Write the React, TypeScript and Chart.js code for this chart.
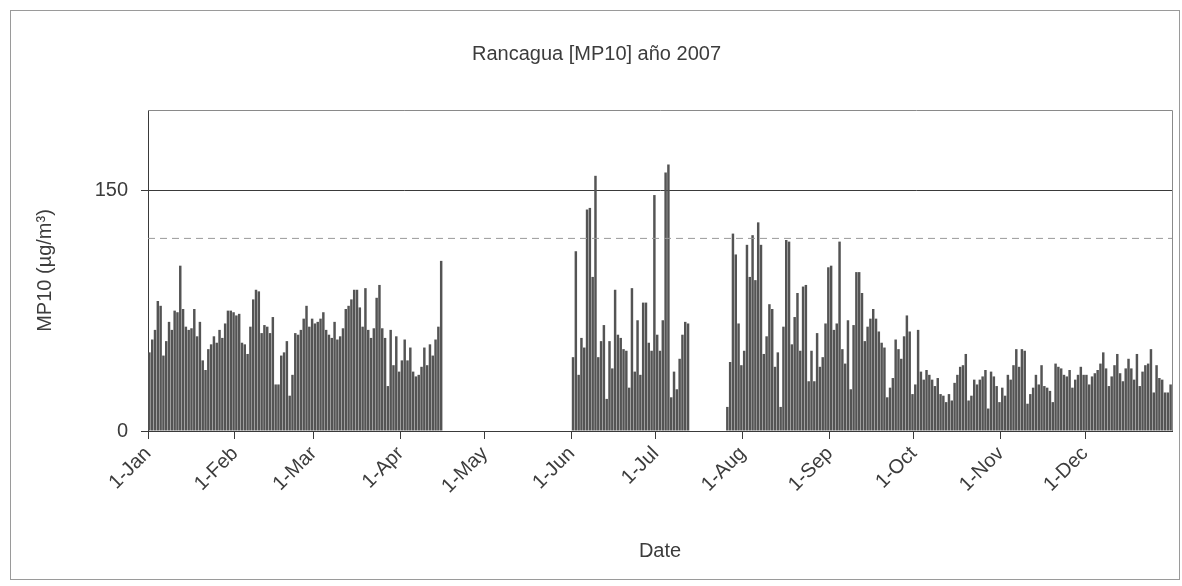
import React, { useEffect, useRef } from "react";
import { Chart, registerables } from "chart.js";

Chart.register(...registerables);

const TITLE = "Rancagua [MP10] año 2007";
const Y_TITLE = "MP10 (µg/m³)";
const X_TITLE = "Date";

// tick positions (day of year, 0 = 1-Jan) and labels
const monthTickDays = [0, 31, 59, 90, 120, 151, 181, 212, 243, 273, 304, 334];
const monthTickLabels = ["1-Jan", "1-Feb", "1-Mar", "1-Apr", "1-May", "1-Jun", "1-Jul", "1-Aug", "1-Sep", "1-Oct", "1-Nov", "1-Dec"];
const DAYS_IN_YEAR = 365;

const yTickValues = [0, 150];
const Y_MAX = 200;
const NORM_DASHED = 120;

// daily MP10 values, segment by segment (first day index of each segment)
const janAprStart = 0;
const janAprValues = [
  49, 57, 63, 81, 78, 47, 56, 68, 63, 75, 74, 103, 76, 65, 63, 64, 76, 59, 68, 44,
  38, 51, 54, 59, 55, 63, 58, 67, 75, 75, 74, 72, 73, 55, 54, 48, 65, 82, 88, 87,
  61, 66, 65, 61, 71, 29, 29, 47, 49, 56, 22, 35, 61,
  60, 63, 70, 78, 65, 70, 67, 68, 70, 74, 63, 60, 58, 68, 57, 59, 64, 76, 78, 82,
  88, 88, 77, 65, 89, 63, 58, 64, 83, 91, 64, 58, 28, 63, 41, 59, 37, 44, 57, 44,
  52, 37, 34, 35, 40, 52, 41, 54, 47, 57, 65, 106,
];

const junJulStart = 151;
const junJulValues = [
  46, 112, 35, 58, 52, 138, 139, 96, 159, 46, 56, 66, 20, 56, 39, 88, 60, 58, 51, 50,
  27, 89, 37, 69, 35, 80, 80, 55, 50, 147, 60, 50, 69, 161, 166, 21, 37, 26, 45, 60,
  68, 67,
];

const julSepStart = 206;
const julSepValues = [
  15, 43, 123, 110, 67, 41, 50, 116, 96, 122, 94, 130, 116, 48, 59, 79, 76, 40, 49, 15,
  65, 119, 118, 54, 71, 86, 50, 90, 91, 31, 50, 31, 61, 40, 46, 67, 102, 103, 63, 67,
  118, 51, 42, 69, 26, 66, 99, 99, 86, 56, 65, 70, 76, 70,
];

const sepNovStart = 260;
const sepNovValues = [
  62, 55, 52, 21, 27, 33, 57, 51, 45, 59, 72, 62, 23, 29, 63, 37, 32, 38, 35, 32,
  28, 33, 23, 22, 18, 23, 19, 30, 35, 40, 41, 48, 19, 22, 32, 29, 32, 34, 38, 14,
  37, 34, 28, 18, 27, 22, 35, 32, 41, 51, 40,
];

const novDecStart = 311;
const novDecValues = [
  51, 50, 17, 23, 27, 35, 29, 41, 28, 27, 25, 18, 42, 40, 39, 35, 34, 38, 27, 32,
  35, 40, 35, 35, 29, 34, 36, 38, 42, 49, 39, 28, 34, 41, 48, 36, 31, 39, 45, 39,
  32, 48, 28, 37, 41, 42, 51, 24, 41, 33, 32, 24, 24, 29,
];

const segments: [number, number[]][] = [
  [janAprStart, janAprValues],
  [junJulStart, junJulValues],
  [julSepStart, julSepValues],
  [sepNovStart, sepNovValues],
  [novDecStart, novDecValues],
];

const FONT = "'Liberation Sans', Arial, sans-serif";
const FONT_SIZE = 20;
const TEXT = "#3c3c3c";
const AXIS = "#3a3a3a";

const frame = {
  id: "plotFrame",
  afterDraw(chart: any) {
    const { ctx, chartArea } = chart;
    const { left, right, top, bottom } = chartArea;
    ctx.save();
    ctx.strokeStyle = "#8a8a8a";
    ctx.lineWidth = 1;
    ctx.beginPath();
    ctx.moveTo(left, Math.round(top) + 0.5);
    ctx.lineTo(Math.round(right) + 0.5, Math.round(top) + 0.5);
    ctx.lineTo(Math.round(right) + 0.5, bottom);
    ctx.stroke();
    ctx.restore();
  },
};

export default function App() {
  const ref = useRef<HTMLCanvasElement | null>(null);

  useEffect(() => {
    if (!ref.current) return;
    const points: { x: number; y: number }[] = [];
    segments.forEach(([start, vals]) => {
      vals.forEach((v, i) => points.push({ x: start + i + 0.5, y: v }));
    });

    const chart = new Chart(ref.current, {
      type: "bar",
      data: {
        datasets: [
          {
            type: "bar",
            data: points as any,
            backgroundColor: "#545454",
            borderWidth: 0,
            barPercentage: 0.88,
            categoryPercentage: 1,
            order: 2,
          } as any,
          {
            type: "line",
            data: [
              { x: 0, y: NORM_DASHED },
              { x: DAYS_IN_YEAR, y: NORM_DASHED },
            ] as any,
            borderColor: "#9a9a9a",
            borderWidth: 1,
            borderDash: [7, 5],
            pointRadius: 0,
            order: 1,
          } as any,
        ],
      },
      options: {
        animation: false,
        responsive: false,
        devicePixelRatio: 1,
        layout: { padding: { left: 10, right: 7, top: 10, bottom: 10 } },
        plugins: {
          legend: { display: false },
          tooltip: { enabled: false },
          title: {
            display: true,
            text: TITLE,
            color: TEXT,
            font: { family: FONT, size: FONT_SIZE, weight: "normal" },
            padding: { top: 21, bottom: 44 },
          },
        },
        scales: {
          x: {
            type: "linear",
            offset: false,
            min: 0,
            max: DAYS_IN_YEAR,
            afterBuildTicks: (s: any) => {
              s.ticks = monthTickDays.map((v) => ({ value: v }));
            },
            afterFit: (s: any) => {
              s.height = 138;
            },
            ticks: {
              autoSkip: false,
              minRotation: 45,
              maxRotation: 45,
              padding: 3,
              color: TEXT,
              font: { family: FONT, size: FONT_SIZE },
              callback: (v: any) => {
                const i = monthTickDays.indexOf(Number(v));
                return i >= 0 ? monthTickLabels[i] : "";
              },
            },
            grid: { offset: false, drawOnChartArea: false, drawTicks: true, tickLength: 8, color: AXIS },
            border: { color: AXIS },
            title: {
              display: true,
              text: X_TITLE,
              color: TEXT,
              font: { family: FONT, size: FONT_SIZE },
              padding: { top: 4, bottom: 6 },
            },
          },
          y: {
            min: 0,
            max: Y_MAX,
            afterBuildTicks: (s: any) => {
              s.ticks = yTickValues.map((v) => ({ value: v }));
            },
            afterFit: (s: any) => {
              s.width = 127;
            },
            ticks: {
              padding: 13,
              color: TEXT,
              font: { family: FONT, size: FONT_SIZE },
            },
            grid: { drawOnChartArea: true, drawTicks: true, tickLength: 7, color: AXIS },
            border: { color: AXIS },
            title: {
              display: true,
              text: Y_TITLE,
              color: TEXT,
              font: { family: FONT, size: FONT_SIZE },
              padding: { top: 12, bottom: 4 },
            },
          },
        },
      },
      plugins: [frame],
    } as any);
    return () => chart.destroy();
  }, []);

  return (
    <div
      style={{
        position: "absolute",
        left: 10,
        top: 10,
        width: 1168,
        height: 568,
        border: "1px solid #9a9a9a",
        background: "#fff",
      }}
    >
      <canvas ref={ref} width={1168} height={568} style={{ display: "block" }} />
    </div>
  );
}
